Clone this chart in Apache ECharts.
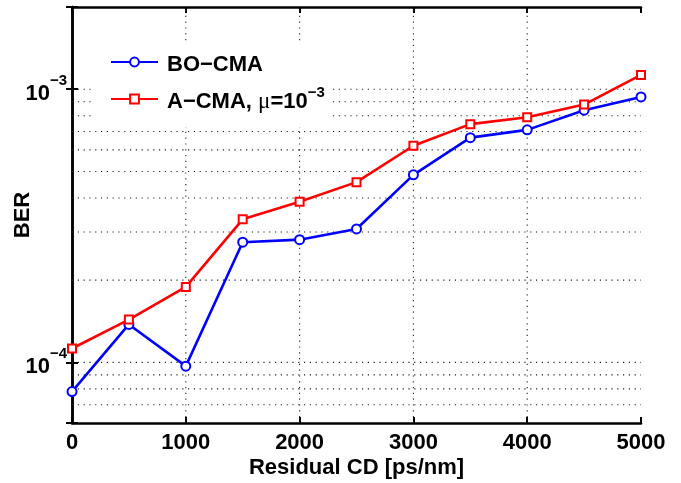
<!DOCTYPE html>
<html>
<head>
<meta charset="utf-8">
<script src="https://cdn.jsdelivr.net/npm/echarts@6/dist/echarts.min.js"></script>
<style>html,body{margin:0;padding:0;background:#fff;}#c{width:681px;height:483px;}</style>
</head>
<body>
<div id="c"></div>
<script>
// ---- data ----
const xValues = [0, 500, 1000, 1500, 2000, 2500, 3000, 3500, 4000, 4500, 5000];
const boCma = [7.82e-5, 1.377e-4, 9.69e-5, 2.754e-4, 2.814e-4, 3.08e-4, 4.86e-4, 6.65e-4, 7.10e-4, 8.38e-4, 9.37e-4];
const aCma  = [1.124e-4, 1.435e-4, 1.890e-4, 3.34e-4, 3.876e-4, 4.57e-4, 6.21e-4, 7.45e-4, 7.90e-4, 8.79e-4, 1.128e-3];
const seriesNames = ['BO\u2212CMA', 'A\u2212CMA, \u03bc=10\u22123'];
const yGridValues = [7e-5, 8e-5, 9e-5, 1e-4, 2e-4, 3e-4, 4e-4, 5e-4, 6e-4, 7e-4, 8e-4, 9e-4, 1e-3];
const xGridValues = [1000, 2000, 3000, 4000];
const xMin = 0, xMax = 5000, xInterval = 1000;
const yMin = 6e-5, yMax = 2e-3;
const xAxisTitle = 'Residual CD [ps/nm]';
const yAxisTitle = 'BER';

const FONT = 'Liberation Sans, Arial, Helvetica, sans-serif';
const chart = echarts.init(document.getElementById('c'));

function toPairs(xs, ys) { return xs.map((x, i) => [x, ys[i]]); }
function isPow10(v) { const l = Math.log10(v); return Math.abs(l - Math.round(l)) < 1e-6; }

const gridLineStyle = { color: '#222', width: 1.1, type: [1.2, 4.6] };

const gridSeries = yGridValues.map(v => ({
  type: 'line', xAxisIndex: 0, yAxisIndex: 0, z: 1, silent: true, symbol: 'none',
  data: [[xMin, v], [xMax, v]], lineStyle: gridLineStyle, tooltip: { show: false }
})).concat(xGridValues.map(v => ({
  type: 'line', xAxisIndex: 0, yAxisIndex: 0, z: 1, silent: true, symbol: 'none',
  data: [[v, yMin], [v, yMax]], lineStyle: gridLineStyle, tooltip: { show: false }
})));

const option = {
  animation: false,
  backgroundColor: '#fff',
  grid: { left: 72, right: 40, top: 7, bottom: 60, containLabel: false, outerBoundsMode: 'none' },
  legend: {
    data: seriesNames,
    orient: 'vertical',
    left: 93, top: 42,
    padding: [12, 8, 14, 17],
    itemGap: 9,
    itemWidth: 47, itemHeight: 11,
    backgroundColor: '#fff',
    borderWidth: 0,
    formatter: function (name) {
      if (name === seriesNames[1]) return '{n|A\u2212CMA, }{m|\u03bc}{n|=10}{s|\u22123}';
      return '{n|' + name + '}';
    },
    textStyle: {
      padding: [0, 0, 0, 4],
      rich: {
        n: { fontFamily: FONT, fontWeight: 'bold', fontSize: 22, color: '#000', lineHeight: 28, verticalAlign: 'bottom' },
        m: { fontFamily: 'Liberation Serif, DejaVu Serif, serif', fontWeight: 'normal', fontSize: 23, color: '#000', lineHeight: 28, verticalAlign: 'bottom' },
        s: { fontFamily: FONT, fontWeight: 'bold', fontSize: 15, color: '#000', lineHeight: 15, verticalAlign: 'top' }
      }
    }
  },
  xAxis: [{
    type: 'value', min: xMin, max: xMax, interval: xInterval, position: 'bottom',
    name: xAxisTitle, nameLocation: 'middle', nameGap: 34, nameMoveOverlap: false,
    nameTextStyle: { fontFamily: FONT, fontWeight: 'bold', fontSize: 22, color: '#000' },
    axisLine: { show: true, lineStyle: { color: '#000', width: 2.5 } },
    axisTick: { show: true, inside: true, length: 6, lineStyle: { color: '#000', width: 2 } },
    axisLabel: { fontFamily: FONT, fontWeight: 'bold', fontSize: 22, color: '#000', margin: 9,
      formatter: function (v) { return String(v); } },
    splitLine: { show: false }
  }, {
    type: 'value', min: xMin, max: xMax, interval: xInterval, position: 'top',
    axisLine: { show: true, lineStyle: { color: '#000', width: 2.5 } },
    axisTick: { show: true, inside: true, length: 6, lineStyle: { color: '#000', width: 2 } },
    axisLabel: { show: false }, splitLine: { show: false }
  }],
  yAxis: [{
    type: 'log', logBase: 10, min: yMin, max: yMax, position: 'left',
    name: yAxisTitle, nameLocation: 'middle', nameGap: 38, nameMoveOverlap: false,
    nameTextStyle: { fontFamily: FONT, fontWeight: 'bold', fontSize: 22, color: '#000' },
    axisLine: { show: true, lineStyle: { color: '#000', width: 2.5 } },
    axisTick: { show: true, inside: true, length: 6, lineStyle: { color: '#000', width: 2 } },
    axisLabel: {
      margin: 5,
      formatter: function (v) {
        if (!isPow10(v)) return '';
        const e = Math.round(Math.log10(v));
        return '{b|10}{s|\u2212' + Math.abs(e) + '}';
      },
      rich: {
        b: { fontFamily: FONT, fontWeight: 'bold', fontSize: 22, color: '#000', lineHeight: 32, verticalAlign: 'bottom' },
        s: { fontFamily: FONT, fontWeight: 'bold', fontSize: 15, color: '#000', lineHeight: 15, verticalAlign: 'top' }
      }
    },
    splitLine: { show: false }
  }, {
    type: 'log', logBase: 10, min: yMin, max: yMax, position: 'right',
    axisLine: { show: true, lineStyle: { color: '#000', width: 2.5 } },
    axisTick: { show: true, inside: true, length: 6, lineStyle: { color: '#000', width: 2 } },
    axisLabel: { show: false }, splitLine: { show: false }
  }],
  series: gridSeries.concat([{
    name: seriesNames[0], type: 'line', xAxisIndex: 0, yAxisIndex: 0, z: 3,
    data: toPairs(xValues, boCma),
    symbol: 'emptyCircle', symbolSize: 9,
    lineStyle: { color: '#0000ff', width: 2.6 },
    itemStyle: { color: '#0000ff', borderColor: '#0000ff', borderWidth: 2 }
  }, {
    name: seriesNames[1], type: 'line', xAxisIndex: 0, yAxisIndex: 0, z: 3,
    data: toPairs(xValues, aCma),
    symbol: 'emptyRect', symbolSize: 8,
    lineStyle: { color: '#ff0000', width: 2.6 },
    itemStyle: { color: '#ff0000', borderColor: '#ff0000', borderWidth: 2 }
  }])
};
chart.setOption(option);
</script>
</body>
</html>
